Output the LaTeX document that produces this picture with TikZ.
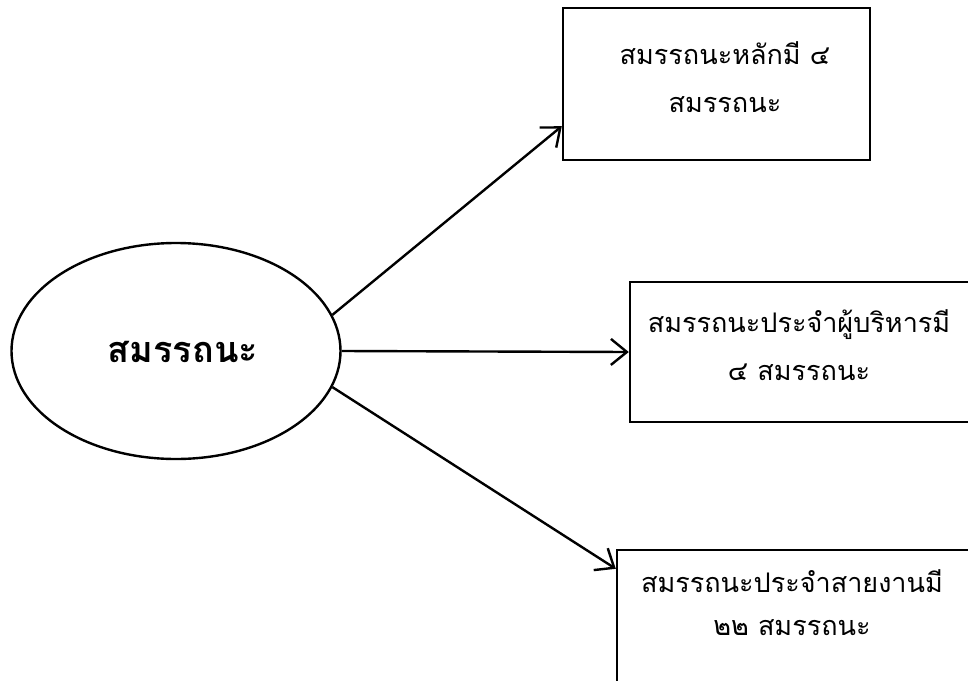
\documentclass[tikz,border=0pt]{standalone}
\usepackage{fontspec}
\newfontfamily\thaifont[Script=Thai]{Loma}
\usetikzlibrary{shapes.geometric,arrows.meta}

\begin{document}
\begin{tikzpicture}[x=1pt,y=-1pt,line width=2.4pt,
  box/.style={draw,rectangle,inner sep=0pt},
  txt/.style={font=\thaifont\fontsize{27}{48}\selectfont,align=center,inner sep=0pt},
  arr/.style={-{Straight Barb[length=16pt,width=26pt,line width=2.4pt]}}]

  \useasboundingbox (0,0) rectangle (968,680);

  % main oval
  \node[draw,ellipse,minimum width=329pt,minimum height=216pt,inner sep=0pt] (ell) at (176,351) {};
  \node[font=\thaifont\bfseries\fontsize{36}{40}\selectfont] (main) at (183,352) {สมรรถนะ};

  % boxes on the right
  \node[box,minimum width=307pt,minimum height=152pt] (b1) at (716.5,84) {};
  \node[box,minimum width=340pt,minimum height=140pt] (b2) at (800,352) {};
  \node[box,minimum width=360pt,minimum height=150pt] (b3) at (797,625) {};

  \node[txt] (t1) at (725,77) {สมรรถนะหลักมี ๔\\สมรรถนะ};
  \node[txt] (t2) at (799,345) {สมรรถนะประจำผู้บริหารมี\\๔ สมรรถนะ};
  \node[txt,font=\thaifont\fontsize{27}{43}\selectfont] (t3) at (792,603) {สมรรถนะประจำสายงานมี\\๒๒ สมรรถนะ};

  \draw[arr] (ell.13) -- ([yshift=35pt]b1.south west);
  \draw[arr] (ell.east) -- (b2.west);
  \draw[arr] (ell.-13) -- ([yshift=-20pt]b3.north west);

\end{tikzpicture}
\end{document}
